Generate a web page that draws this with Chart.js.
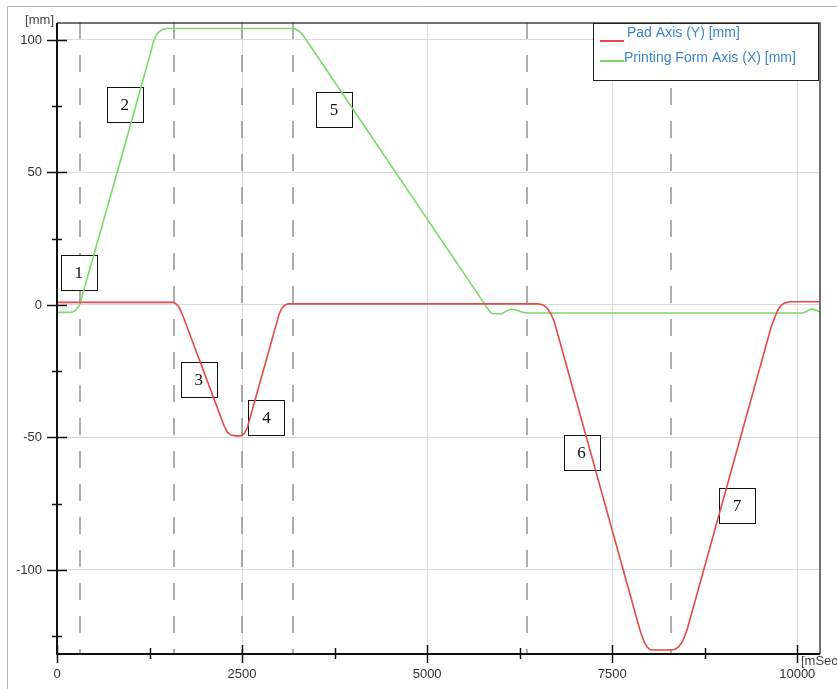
<!DOCTYPE html>
<html>
<head>
<meta charset="utf-8">
<script src="https://cdn.jsdelivr.net/npm/chart.js@4/dist/chart.umd.min.js"></script>
<style>
  html, body { margin: 0; padding: 0; background: #ffffff; }
  #wrap { width: 837px; height: 689px; position: relative; }
  canvas { display: block; }
</style>
</head>
<body>
<div id="wrap"><canvas id="c" width="837" height="689"></canvas></div>
<script>
// ---- data ----
const padLabel = 'Pad Axis (Y) [mm]';
const padTime = [0, 1560, 1600, 1640, 1690, 2260, 2300, 2350, 2420, 2490, 2530, 2570, 3000, 3030, 3070, 3120, 6500, 6560, 6600, 6640, 6680, 6720, 7850, 7890, 7930, 7970, 8010, 8050, 8280, 8340, 8390, 8440, 8480, 8520, 9595, 9650, 9703, 9740, 9780, 9830, 9900, 10307];
const padMm   = [1.0, 1.0, 0.6, -0.5, -3.3, -45.8, -48.0, -49.1, -49.4, -49.4, -48.5, -46.4, -3.5, -1.6, -0.2, 0.4, 0.4, 0.1, -0.6, -1.9, -3.8, -6.5, -120.2, -124.0, -127.0, -129.0, -130.0, -130.2, -130.2, -130.0, -129.2, -127.5, -125.0, -121.7, -13.6, -8.0, -4.2, -1.8, -0.2, 0.8, 1.2, 1.2];

const formLabel = 'Printing Form Axis (X) [mm]';
const formTime = [0, 180, 220, 250, 280, 305, 811, 1000, 1270, 1300, 1330, 1370, 1420, 1480, 3190, 3230, 3270, 3311, 5811, 5840, 5870, 5900, 6010, 6060, 6122, 6180, 6230, 6300, 6351, 10081, 10140, 10203, 10250, 10307];
const formMm   = [-2.8, -2.8, -2.6, -2.0, -1.0, 0.0, 49.8, 68.7, 95.8, 99.0, 101.2, 102.9, 103.9, 104.3, 104.3, 104.0, 103.3, 102.3, -1.1, -2.3, -3.2, -3.3, -3.3, -2.4, -1.6, -1.8, -2.2, -2.8, -3.0, -3.0, -2.2, -1.5, -2.0, -2.6];

const xTickValues = [0, 2500, 5000, 7500, 10000];
const xMinorValues = [1250, 3750, 6250, 8750];
const yTickValues = [100, 50, 0, -50, -100];
const yMinorValues = [75, 25, -25, -75, -125];

const markerTimes = [315, 1578, 2495, 3187, 6349, 8295];

const stepLabels = ['1', '2', '3', '4', '5', '6', '7'];
const stepTime   = [293, 915, 1915, 2830, 3743, 7086, 9185];
const stepMm     = [12.1, 75.5, -28.1, -42.6, 73.8, -55.7, -75.8];

const yUnit = '[mm]';
const xUnit = '[mSec]';

// ---- chart ----
const RED = '#e4494c';
const GREEN = '#7ad96a';
const SANS = '"Liberation Sans", Arial, sans-serif';

const toPts = (xs, ys) => xs.map((x, i) => ({ x: x, y: ys[i] }));

const decorPlugin = {
  id: 'decor',
  beforeDatasetsDraw(chart) {
    const ctx = chart.ctx, a = chart.chartArea;
    const xs = chart.scales.x, ys = chart.scales.y;
    ctx.save();
    // dashed event markers
    ctx.strokeStyle = '#9a9a9a';
    ctx.lineWidth = 1.6;
    ctx.setLineDash([17, 16]);
    markerTimes.forEach(t => {
      const px = Math.round(xs.getPixelForValue(t));
      ctx.beginPath();
      ctx.moveTo(px, a.top - 1);
      ctx.lineTo(px, a.bottom);
      ctx.stroke();
    });
    ctx.setLineDash([]);
    // numbered step boxes
    ctx.font = '17px "Liberation Serif", "Times New Roman", serif';
    ctx.textAlign = 'center';
    ctx.textBaseline = 'middle';
    stepLabels.forEach((lab, i) => {
      const cx = xs.getPixelForValue(stepTime[i]);
      const cy = ys.getPixelForValue(stepMm[i]);
      const w = 36, h = 35;
      const x0 = Math.round(cx - w / 2) + 0.5, y0 = Math.round(cy - h / 2) + 0.5;
      ctx.fillStyle = '#ffffff';
      ctx.fillRect(x0, y0, w, h);
      ctx.strokeStyle = '#111';
      ctx.lineWidth = 1;
      ctx.strokeRect(x0, y0, w, h);
      ctx.fillStyle = '#111';
      ctx.fillText(lab, cx, cy + 1);
    });
    ctx.restore();
  },
  afterDatasetsDraw(chart) {
    const ctx = chart.ctx, a = chart.chartArea;
    const xs = chart.scales.x, ys = chart.scales.y;
    ctx.save();
    // plot frame
    ctx.strokeStyle = '#444';
    ctx.lineWidth = 1.5;
    ctx.beginPath();
    ctx.moveTo(a.left, a.top);
    ctx.lineTo(a.right, a.top);
    ctx.lineTo(a.right, a.bottom);
    ctx.stroke();
    ctx.strokeStyle = '#111';
    ctx.lineWidth = 2;
    ctx.beginPath();
    ctx.moveTo(a.left, a.top);
    ctx.lineTo(a.left, a.bottom);
    ctx.lineTo(a.right, a.bottom);
    ctx.stroke();
    // y ticks (crossing axis)
    ctx.lineWidth = 1.5;
    yTickValues.forEach(v => {
      const py = Math.round(ys.getPixelForValue(v)) + 0.5;
      ctx.beginPath(); ctx.moveTo(a.left - 10, py); ctx.lineTo(a.left + 10, py); ctx.stroke();
    });
    yMinorValues.forEach(v => {
      const py = Math.round(ys.getPixelForValue(v)) + 0.5;
      ctx.beginPath(); ctx.moveTo(a.left - 5, py); ctx.lineTo(a.left + 5, py); ctx.stroke();
    });
    // x ticks (crossing axis)
    xTickValues.forEach(v => {
      const px = Math.round(xs.getPixelForValue(v)) + 0.5;
      ctx.beginPath(); ctx.moveTo(px, a.bottom - 9); ctx.lineTo(px, a.bottom + 9); ctx.stroke();
    });
    xMinorValues.forEach(v => {
      const px = Math.round(xs.getPixelForValue(v)) + 0.5;
      ctx.beginPath(); ctx.moveTo(px, a.bottom - 6); ctx.lineTo(px, a.bottom + 5); ctx.stroke();
    });
    // unit labels
    ctx.fillStyle = '#444';
    ctx.font = '13px ' + SANS;
    ctx.textBaseline = 'middle';
    ctx.textAlign = 'right';
    ctx.fillText(yUnit, a.left - 3, a.top - 3);
    ctx.textAlign = 'left';
    ctx.fillText(xUnit, a.right - 19, a.bottom + 7);
    // legend
    const lx = 593.5, ly = a.top + 0.5, lw = 225, lh = 57;
    ctx.fillStyle = '#ffffff';
    ctx.fillRect(lx, ly, lw, lh);
    ctx.strokeStyle = '#222';
    ctx.lineWidth = 1;
    ctx.strokeRect(lx, ly, lw, lh);
    chart.data.datasets.forEach((ds, i) => {
      const yLine = [41, 61][i];
      const yText = [33, 58][i];
      ctx.strokeStyle = ds.borderColor;
      ctx.lineWidth = 2;
      ctx.beginPath(); ctx.moveTo(600, yLine); ctx.lineTo(624, yLine); ctx.stroke();
      ctx.fillStyle = '#3a86c6';
      ctx.font = '14px ' + SANS;
      ctx.textAlign = 'left';
      ctx.textBaseline = 'middle';
      ctx.fillText(ds.label, [627, 624][i], yText);
    });
    // outer frame of the picture
    ctx.strokeStyle = '#a9b7c6';
    ctx.lineWidth = 1;
    ctx.beginPath();
    ctx.moveTo(7.5, 689);
    ctx.lineTo(7.5, 6.5);
    ctx.lineTo(837, 6.5);
    ctx.stroke();
    ctx.restore();
  }
};

new Chart(document.getElementById('c'), {
  type: 'line',
  data: {
    datasets: [
      { label: padLabel, data: toPts(padTime, padMm), borderColor: RED, borderWidth: 1.6, pointRadius: 0, tension: 0, fill: false },
      { label: formLabel, data: toPts(formTime, formMm), borderColor: GREEN, borderWidth: 1.6, pointRadius: 0, tension: 0, fill: false }
    ]
  },
  options: {
    responsive: false,
    animation: false,
    layout: { padding: { left: 0, top: 23, right: 17, bottom: 0 } },
    plugins: { legend: { display: false }, tooltip: { enabled: false } },
    scales: {
      x: {
        type: 'linear',
        min: 0,
        max: 10307,
        afterBuildTicks: s => { s.ticks = xTickValues.map(v => ({ value: v })); },
        afterFit: s => { s.height = 35; },
        grid: { color: '#dadada', lineWidth: 1, drawTicks: false },
        border: { display: false },
        ticks: { padding: 13, color: '#333', font: { family: SANS, size: 13 }, maxRotation: 0, autoSkip: false, callback: v => String(v) }
      },
      y: {
        type: 'linear',
        min: -131.7,
        max: 106.4,
        afterBuildTicks: s => { s.ticks = yTickValues.map(v => ({ value: v })); },
        afterFit: s => { s.width = 57; },
        grid: { color: '#dadada', lineWidth: 1, drawTicks: false },
        border: { display: false },
        ticks: { padding: 15, color: '#333', font: { family: SANS, size: 13 }, autoSkip: false, callback: v => String(v) }
      }
    }
  },
  plugins: [decorPlugin]
});
</script>
</body>
</html>
